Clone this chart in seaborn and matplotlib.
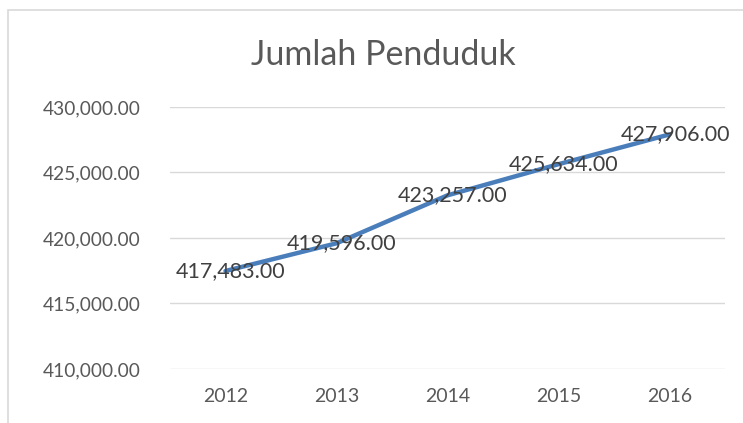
import numpy as np
import pandas as pd
import matplotlib
matplotlib.use("Agg")
import matplotlib.pyplot as plt
import seaborn as sns
from matplotlib.patches import Rectangle

# data
years = ["2012", "2013", "2014", "2015", "2016"]
penduduk = [417483, 419596, 423257, 425634, 427906]
y_ticks = [410000, 415000, 420000, 425000, 430000]

df = pd.DataFrame({"Tahun": years, "Penduduk": penduduk})

sns.set_theme(style="white")
plt.rcParams["font.family"] = ["Lato", "DejaVu Sans"]

text_col = "#595959"
line_col = "#4A7EBB"
grid_col = "#D9D9D9"

fig = plt.figure(figsize=(7.43, 4.23), dpi=100)
fig.patch.set_facecolor("white")

# chart area border (cropped on the right and bottom in the reference)
fig.add_artist(Rectangle((8 / 743, -0.1), 1.2, (423 - 10) / 423 + 0.1,
                         transform=fig.transFigure, fill=False,
                         edgecolor=grid_col, linewidth=1.2))

ax = fig.add_axes([170 / 743, (423 - 369) / 423, 555 / 743, 262 / 423])
sns.lineplot(data=df, x="Tahun", y="Penduduk", ax=ax, color=line_col,
             linewidth=3.2, sort=False, solid_capstyle="round")

ax.set_xlim(-0.5, 4.5)
ax.set_ylim(410000, 430000)
ax.set_yticks(y_ticks)
ax.set_yticklabels([f"{v:,.2f}" for v in y_ticks])
ax.set_xlabel("")
ax.set_ylabel("")
ax.grid(axis="y", color=grid_col, linewidth=1)
ax.set_axisbelow(True)
for s in ax.spines.values():
    s.set_visible(False)
ax.tick_params(axis="y", length=0, pad=21, labelsize=13.8, labelcolor=text_col)
ax.tick_params(axis="x", length=0, pad=14, labelsize=14, labelcolor=text_col)

for i, v in enumerate(penduduk):
    ax.text(i + 0.05, v, f"{v:,.2f}", ha="center", va="center",
            fontsize=15.5, color="#404040")

fig.text(383 / 743, 1 - 55 / 423, "Jumlah Penduduk", ha="center", va="center",
         fontsize=24.5, color=text_col)

fig.savefig("out.png", dpi=100)
